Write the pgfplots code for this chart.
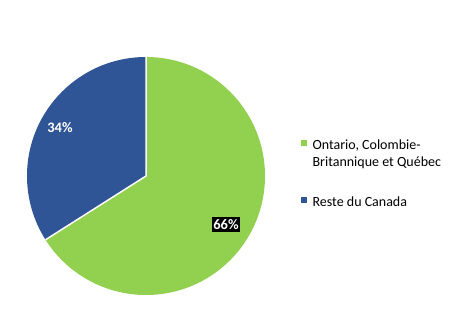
\documentclass[border=0pt]{standalone}
\usepackage{pgfplots}
\pgfplotsset{compat=1.18}
\usepackage{pgfplotstable}
\usepackage{fontspec}
\setmainfont{Carlito}
\definecolor{cgreen}{HTML}{92D050}
\definecolor{cblue}{HTML}{2F5597}
\pgfplotstableread{
region share
Ontario 66
Reste 34
}\datatable
\pgfplotstablegetelem{0}{share}\of\datatable \let\shareA\pgfplotsretval
\pgfplotstablegetelem{1}{share}\of\datatable \let\shareB\pgfplotsretval
\pgfmathsetmacro{\angA}{90-3.6*\shareA}
\pgfmathsetmacro{\angB}{\angA+360}
\begin{document}
\begin{tikzpicture}
\begin{axis}[
  x=1bp, y=1bp, xmin=0, xmax=456, ymin=0, ymax=328,
  scale only axis, hide axis, disabledatascaling, clip=false,
  legend cell align=left,
  legend style={at={(axis cs:298,190.5)}, anchor=north west, draw=none, fill=none,
    font=\fontsize{14bp}{16.7bp}\selectfont,
    nodes={inner sep=0pt},
    row sep=46bp, column sep=6bp},
]
\addlegendimage{legend image code/.code={\fill[cgreen] (0bp,0.5bp) rectangle (5bp,5.5bp);}}
\addlegendentry{\vtop{\hbox{Ontario, Colombie-}\hbox{Britannique et Québec}}}
\addlegendimage{legend image code/.code={\fill[cblue] (0bp,0.5bp) rectangle (5bp,5.5bp);}}
\addlegendentry{Reste du Canada}
\path (axis cs:0,0) rectangle (axis cs:456,328);
\fill[cgreen] (axis cs:146,152) -- (axis cs:146,271) arc[start angle=90, end angle=\angA, radius=119bp] -- cycle;
\fill[cblue] (axis cs:146,152) -- (axis cs:146,271) arc[start angle=90, end angle=\angB, radius=119bp] -- cycle;
\draw[white, line width=1.5bp] (axis cs:146,271) -- (axis cs:146,152) -- ++(\angA:119bp);
\node[text=white, font=\bfseries\fontsize{14.5bp}{16bp}\selectfont] at (axis cs:60,200) {\shareB\%};
\node[fill=black, text=white, inner xsep=1.4bp, inner ysep=0pt, minimum height=14.3bp,
  font=\bfseries\fontsize{14.5bp}{16bp}\selectfont] at (axis cs:226,103.5) {\shareA\%};
\end{axis}
\end{tikzpicture}
\end{document}
